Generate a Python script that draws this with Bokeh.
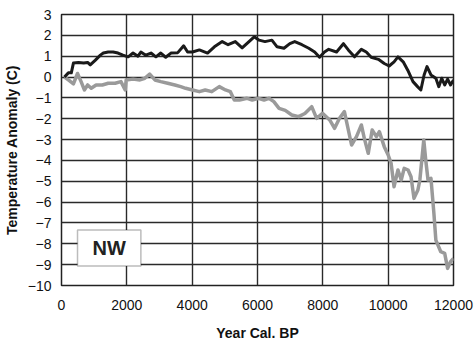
from bokeh.plotting import figure
from bokeh.models import FixedTicker, BoxAnnotation, Label
from bokeh.embed import file_html
from bokeh.resources import INLINE

# Black series (warmer trend)
black_year = [90, 210, 300, 365, 520, 680, 800, 880, 1030, 1190, 1280, 1430, 1580, 1730, 1880,
              2040, 2190, 2340, 2430, 2580, 2740, 2890, 3040, 3190, 3350, 3560, 3740, 3860, 4010,
              4220, 4470, 4680, 4920, 5100, 5320, 5530, 5740, 5900, 6050, 6230, 6440, 6600,
              6810, 6990, 7140, 7360, 7570, 7750, 7900, 8050, 8180, 8420, 8630, 8780, 8970,
              9180, 9330, 9480, 9700, 9880, 10030, 10180, 10300, 10460, 10600, 10760, 10900,
              11000, 11100, 11190, 11310, 11460, 11550, 11640, 11730, 11820, 11910, 12000]
black_temp = [0.0, 0.2, 0.2, 0.67, 0.7, 0.67, 0.7, 0.58, 0.8, 1.05, 1.15, 1.2, 1.2, 1.15, 1.05,
              0.97, 1.15, 1.0, 1.2, 1.05, 1.15, 0.97, 1.15, 0.95, 1.15, 1.17, 1.5, 1.2, 1.2,
              1.3, 1.15, 1.45, 1.7, 1.55, 1.7, 1.4, 1.7, 1.93, 1.77, 1.7, 1.77, 1.45,
              1.38, 1.6, 1.7, 1.55, 1.38, 1.2, 0.95, 1.2, 1.33, 1.2, 1.6, 1.3, 0.97,
              1.33, 1.2, 0.95, 0.85, 0.65, 0.53, 0.73, 0.97, 0.73, 0.33, -0.22, -0.46,
              -0.62, 0.1, 0.5, 0.1, -0.06, -0.46, -0.06, -0.38, -0.1, -0.38, -0.14]

# Grey series (cooler trend)
grey_year = [90, 210, 365, 490, 600, 700, 800, 910, 1060, 1250, 1430, 1640, 1820, 1950, 1980,
             2190, 2400, 2550, 2700, 2860, 3040, 3250, 3470, 3650, 3800, 4010, 4220, 4400,
             4600, 4830, 5020, 5170, 5290, 5450, 5680, 5840, 6030, 6200, 6350, 6500, 6660,
             6850, 7050, 7260, 7450, 7660, 7810, 7990, 8210, 8360, 8510, 8660, 8880, 9030,
             9180, 9270, 9390, 9510, 9640, 9730, 9880, 10000, 10090, 10180, 10300, 10400,
             10490, 10610, 10700, 10790, 10910, 10970, 11090, 11150, 11220, 11310, 11400,
             11460, 11610, 11730, 11820, 11910, 12000]
grey_temp = [0.0, -0.14, -0.33, 0.17, -0.22, -0.62, -0.38, -0.54, -0.38, -0.38, -0.3, -0.3,
             -0.22, -0.62, -0.14, -0.1, -0.14, -0.06, 0.14, -0.14, -0.22, -0.3, -0.38, -0.46,
             -0.54, -0.62, -0.7, -0.62, -0.7, -0.46, -0.62, -0.7, -1.1, -1.1, -1.02, -1.1,
             -1.02, -1.1, -1.02, -1.18, -1.5, -1.6, -1.82, -1.9, -1.75, -1.42, -1.98, -1.74,
             -2.06, -2.46, -1.98, -1.66, -3.26, -2.86, -2.3, -2.94, -3.66, -2.54, -2.86,
             -2.62, -3.34, -3.74, -4.14, -5.26, -4.46, -4.94, -4.38, -4.46, -4.78, -5.82,
             -5.42, -4.94, -3.02, -3.98, -4.94, -4.86, -6.54, -7.82, -8.38, -8.46, -9.18,
             -8.86, -8.7]

x_ticks = [0, 2000, 4000, 6000, 8000, 10000, 12000]
y_ticks = list(range(-10, 4))
region_label = "NW"

p = figure(width=474, height=343, output_backend="svg", toolbar_location=None,
           x_range=(0, 12000), y_range=(-10, 3),
           min_border_left=10, min_border_right=21, min_border_top=14, min_border_bottom=10)
p.background_fill_color = "white"
p.border_fill_color = "white"
p.outline_line_color = "#222222"
p.outline_line_width = 1.5

FONT = "Liberation Sans"
for ax in (p.xaxis[0], p.yaxis[0]):
    ax.axis_line_color = None
    ax.major_tick_line_color = None
    ax.minor_tick_line_color = None
    ax.major_tick_out = 0
    ax.major_tick_in = 0
    ax.minor_tick_out = 0
    ax.major_label_text_font = FONT
    ax.major_label_text_font_size = "14px"
    ax.major_label_text_color = "#111111"
    ax.axis_label_text_font = FONT
    ax.axis_label_text_font_style = "bold"
    ax.axis_label_text_font_size = "14px"
    ax.axis_label_text_color = "#111111"

p.xaxis.ticker = FixedTicker(ticks=x_ticks)
p.yaxis.ticker = FixedTicker(ticks=y_ticks)
p.xaxis.major_label_standoff = 14
p.yaxis.major_label_standoff = 10
p.xaxis.axis_label = "Year Cal. BP"
p.yaxis.axis_label = "Temperature Anomaly (C)"
p.xaxis.axis_label_standoff = 12
p.yaxis.axis_label_standoff = 5

for g in (p.xgrid[0], p.ygrid[0]):
    g.grid_line_color = "#2a2a2a"
    g.grid_line_width = 1.4
    g.grid_line_alpha = 1.0

p.line(grey_year, grey_temp, line_color="#9a9a9a", line_width=3.5, line_join="round")
p.line(black_year, black_temp, line_color="#1a1a1a", line_width=3, line_join="round")

box = BoxAnnotation(left=490, right=2430, top=-7.34, bottom=-9.06,
                    fill_color="white", fill_alpha=1.0,
                    line_color="#222222", line_width=1.5, level="overlay")
p.add_layout(box)
lab = Label(x=1460, y=-8.2, text=region_label, text_align="center", text_baseline="middle",
            text_font=FONT, text_font_style="bold", text_font_size="20px",
            text_color="#222222", level="overlay")
p.add_layout(lab)

open("out.html", "w").write(file_html(p, INLINE))
